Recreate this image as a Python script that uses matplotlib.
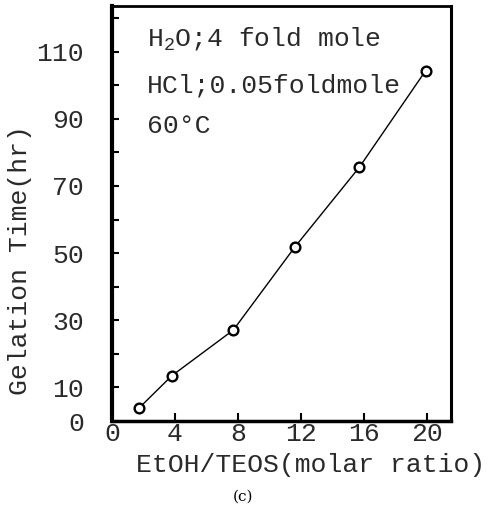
import matplotlib
matplotlib.use("Agg")
import matplotlib.pyplot as plt

# Data
ratio = [1.7, 3.8, 7.7, 11.6, 15.7, 19.9]
gel_time = [3.8, 13.5, 27.1, 51.8, 75.6, 104.3]

x_ticks = [0, 4, 8, 12, 16, 20]
x_ticklabels = ["0", "4", "8", "12", "16", "20"]
y_major = [0, 10, 30, 50, 70, 90, 110]
y_minor = [20, 40, 60, 80, 100, 120]

plt.rcParams["font.family"] = ["Liberation Mono", "DejaVu Sans Mono"]
plt.rcParams["mathtext.fontset"] = "custom"
plt.rcParams["mathtext.rm"] = "Liberation Mono"
plt.rcParams["mathtext.it"] = "Liberation Mono"
plt.rcParams["mathtext.bf"] = "Liberation Mono"

TXT = "#2a2a2a"
FS = 19

fig = plt.figure(figsize=(4.89, 5.16), dpi=100)
ax = fig.add_axes([0.229, 0.184, 0.693, 0.804])

ax.plot(ratio, gel_time, color="black", lw=1.0, marker="o", ms=7,
        mfc="white", mec="black", mew=1.7)

ax.set_xlim(0.2, 21.5)
ax.set_ylim(0, 123.5)

ax.set_xticks(x_ticks)
ax.set_xticklabels(x_ticklabels, fontsize=FS, color=TXT)
ax.set_yticks(y_major)
ax.set_yticklabels([str(v) for v in y_major], fontsize=FS, color=TXT)
ax.set_yticks(y_minor, minor=True)

ax.tick_params(axis="both", which="both", direction="in", width=1.5)
ax.tick_params(axis="x", length=6, pad=1)
ax.tick_params(axis="y", which="major", length=5, pad=20)
ax.tick_params(axis="y", which="minor", length=5)

for side, lw in [("left", 3.0), ("bottom", 2.5), ("top", 2.0), ("right", 2.2)]:
    ax.spines[side].set_linewidth(lw)

ax.set_xlabel("EtOH/TEOS(molar ratio)", fontsize=FS, color=TXT)
ax.xaxis.set_label_coords(0.587, -0.078)
ax.set_ylabel("Gelation Time(hr)", fontsize=FS, color=TXT)
ax.yaxis.set_label_coords(-0.236, 0.388)

x0 = 0.103
ax.text(x0, 0.906, r"H$_{\mathrm{2}}$O;4 fold mole", transform=ax.transAxes,
        fontsize=FS, color=TXT, va="baseline")
ax.text(x0, 0.793, "HCl;0.05foldmole", transform=ax.transAxes,
        fontsize=FS, color=TXT, va="baseline")
ax.text(x0, 0.694, "60\u00b0C", transform=ax.transAxes,
        fontsize=FS, color=TXT, va="baseline")

fig.text(0.497, 0.037, "(c)", family="DejaVu Serif", fontsize=11,
         ha="center", va="center")

fig.savefig("out.png", dpi=100)
